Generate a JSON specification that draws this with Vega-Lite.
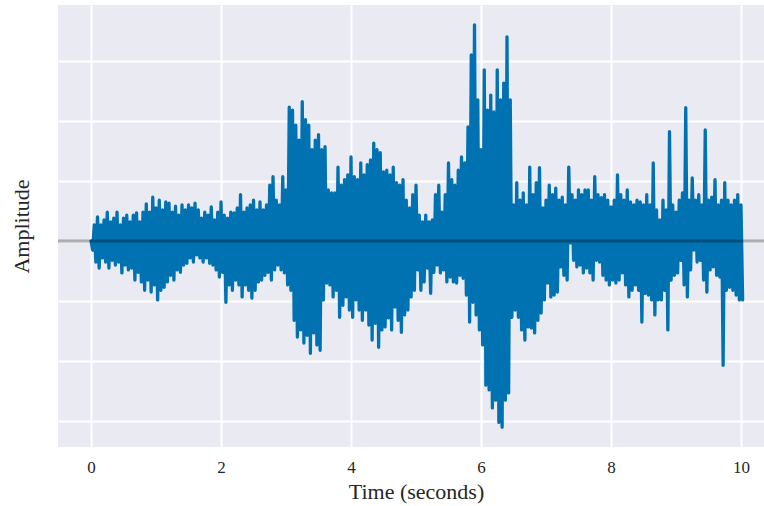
{
  "$schema": "https://vega.github.io/schema/vega-lite/v6.json",
  "width": 706,
  "height": 442,
  "autosize": "none",
  "padding": {"left": 58, "top": 5, "right": 0, "bottom": 59},
  "background": "white",
  "config": {
    "view": {"fill": "#EAEAF2", "stroke": null},
    "axis": {"grid": true, "gridColor": "white", "gridWidth": 2, "domain": false, "ticks": false, "labelFont": "Liberation Serif", "titleFont": "Liberation Serif", "labelColor": "#262626", "titleColor": "#262626", "titleFontWeight": "normal"}
  },
  "layer": [
    {
      "data": {"values": [
        {"t":0,"a":0},{"t":0.025,"a":-0.015},{"t":0.05,"a":0.027},{"t":0.075,"a":-0.035},{"t":0.1,"a":0.040},{"t":0.125,"a":-0.045},{"t":0.15,"a":0.027},{"t":0.175,"a":-0.028},{"t":0.2,"a":0.035},{"t":0.225,"a":-0.035},
        {"t":0.25,"a":0.048},{"t":0.275,"a":-0.045},{"t":0.3,"a":0.032},{"t":0.325,"a":-0.032},{"t":0.35,"a":0.038},{"t":0.375,"a":-0.040},{"t":0.4,"a":0.048},{"t":0.425,"a":-0.035},{"t":0.45,"a":0.027},{"t":0.475,"a":-0.053},
        {"t":0.5,"a":0.038},{"t":0.525,"a":-0.040},{"t":0.55,"a":0.043},{"t":0.575,"a":-0.048},{"t":0.6,"a":0.032},{"t":0.625,"a":-0.045},{"t":0.65,"a":0.043},{"t":0.675,"a":-0.065},{"t":0.7,"a":0.047},{"t":0.725,"a":-0.052},
        {"t":0.75,"a":0.032},{"t":0.775,"a":-0.068},{"t":0.8,"a":0.048},{"t":0.825,"a":-0.082},{"t":0.85,"a":0.062},{"t":0.875,"a":-0.065},{"t":0.9,"a":0.048},{"t":0.925,"a":-0.085},{"t":0.95,"a":0.073},{"t":0.975,"a":-0.073},
        {"t":1.0,"a":0.055},{"t":1.025,"a":-0.098},{"t":1.05,"a":0.068},{"t":1.075,"a":-0.082},{"t":1.1,"a":0.052},{"t":1.125,"a":-0.077},{"t":1.15,"a":0.065},{"t":1.175,"a":-0.068},{"t":1.2,"a":0.063},{"t":1.225,"a":-0.057},
        {"t":1.25,"a":0.048},{"t":1.275,"a":-0.065},{"t":1.3,"a":0.058},{"t":1.325,"a":-0.048},{"t":1.35,"a":0.043},{"t":1.375,"a":-0.052},{"t":1.4,"a":0.060},{"t":1.425,"a":-0.040},{"t":1.45,"a":0.052},{"t":1.475,"a":-0.037},
        {"t":1.5,"a":0.060},{"t":1.525,"a":-0.028},{"t":1.55,"a":0.055},{"t":1.575,"a":-0.035},{"t":1.6,"a":0.063},{"t":1.625,"a":-0.023},{"t":1.65,"a":0.052},{"t":1.675,"a":-0.028},{"t":1.7,"a":0.038},{"t":1.725,"a":-0.035},
        {"t":1.75,"a":0.048},{"t":1.775,"a":-0.028},{"t":1.8,"a":0.043},{"t":1.825,"a":-0.037},{"t":1.85,"a":0.057},{"t":1.875,"a":-0.040},{"t":1.9,"a":0.035},{"t":1.925,"a":-0.048},{"t":1.95,"a":0.048},{"t":1.975,"a":-0.060},
        {"t":2.0,"a":0.065},{"t":2.025,"a":-0.052},{"t":2.05,"a":0.043},{"t":2.075,"a":-0.102},{"t":2.1,"a":0.038},{"t":2.125,"a":-0.073},{"t":2.15,"a":0.048},{"t":2.175,"a":-0.082},{"t":2.2,"a":0.047},{"t":2.225,"a":-0.065},
        {"t":2.25,"a":0.055},{"t":2.275,"a":-0.073},{"t":2.3,"a":0.077},{"t":2.325,"a":-0.093},{"t":2.35,"a":0.048},{"t":2.375,"a":-0.073},{"t":2.4,"a":0.055},{"t":2.425,"a":-0.082},{"t":2.45,"a":0.060},{"t":2.475,"a":-0.095},
        {"t":2.5,"a":0.068},{"t":2.525,"a":-0.082},{"t":2.55,"a":0.052},{"t":2.575,"a":-0.068},{"t":2.6,"a":0.065},{"t":2.625,"a":-0.065},{"t":2.65,"a":0.052},{"t":2.675,"a":-0.057},{"t":2.7,"a":0.060},{"t":2.725,"a":-0.052},
        {"t":2.75,"a":0.093},{"t":2.775,"a":-0.065},{"t":2.8,"a":0.107},{"t":2.825,"a":-0.048},{"t":2.85,"a":0.068},{"t":2.875,"a":-0.040},{"t":2.9,"a":0.060},{"t":2.925,"a":-0.048},{"t":2.95,"a":0.107},{"t":2.975,"a":-0.053},
        {"t":3.0,"a":0.085},{"t":3.025,"a":-0.073},{"t":3.05,"a":0.223},{"t":3.075,"a":-0.082},{"t":3.1,"a":0.218},{"t":3.125,"a":-0.132},{"t":3.15,"a":0.193},{"t":3.175,"a":-0.160},{"t":3.2,"a":0.168},{"t":3.225,"a":-0.148},
        {"t":3.25,"a":0.232},{"t":3.275,"a":-0.170},{"t":3.3,"a":0.202},{"t":3.325,"a":-0.157},{"t":3.35,"a":0.193},{"t":3.375,"a":-0.187},{"t":3.4,"a":0.152},{"t":3.425,"a":-0.153},{"t":3.45,"a":0.168},{"t":3.475,"a":-0.173},
        {"t":3.5,"a":0.177},{"t":3.525,"a":-0.182},{"t":3.55,"a":0.152},{"t":3.575,"a":-0.098},{"t":3.6,"a":0.157},{"t":3.625,"a":-0.070},{"t":3.65,"a":0.085},{"t":3.675,"a":-0.073},{"t":3.7,"a":0.080},{"t":3.725,"a":-0.093},
        {"t":3.75,"a":0.080},{"t":3.775,"a":-0.082},{"t":3.8,"a":0.123},{"t":3.825,"a":-0.127},{"t":3.85,"a":0.093},{"t":3.875,"a":-0.107},{"t":3.9,"a":0.102},{"t":3.925,"a":-0.093},{"t":3.95,"a":0.110},{"t":3.975,"a":-0.115},
        {"t":4.0,"a":0.140},{"t":4.025,"a":-0.127},{"t":4.05,"a":0.107},{"t":4.075,"a":-0.098},{"t":4.1,"a":0.102},{"t":4.125,"a":-0.115},{"t":4.15,"a":0.130},{"t":4.175,"a":-0.132},{"t":4.2,"a":0.110},{"t":4.225,"a":-0.115},
        {"t":4.25,"a":0.127},{"t":4.275,"a":-0.140},{"t":4.3,"a":0.135},{"t":4.325,"a":-0.165},{"t":4.35,"a":0.163},{"t":4.375,"a":-0.137},{"t":4.4,"a":0.152},{"t":4.425,"a":-0.177},{"t":4.45,"a":0.147},{"t":4.475,"a":-0.148},
        {"t":4.5,"a":0.115},{"t":4.525,"a":-0.143},{"t":4.55,"a":0.118},{"t":4.575,"a":-0.128},{"t":4.6,"a":0.110},{"t":4.625,"a":-0.148},{"t":4.65,"a":0.123},{"t":4.675,"a":-0.110},{"t":4.7,"a":0.097},{"t":4.725,"a":-0.132},
        {"t":4.75,"a":0.093},{"t":4.775,"a":-0.152},{"t":4.8,"a":0.102},{"t":4.825,"a":-0.123},{"t":4.85,"a":0.068},{"t":4.875,"a":-0.115},{"t":4.9,"a":0.055},{"t":4.925,"a":-0.093},{"t":4.95,"a":0.077},{"t":4.975,"a":-0.082},
        {"t":5.0,"a":0.093},{"t":5.025,"a":-0.048},{"t":5.05,"a":0.043},{"t":5.075,"a":-0.082},{"t":5.1,"a":0.032},{"t":5.125,"a":-0.068},{"t":5.15,"a":0.043},{"t":5.175,"a":-0.045},{"t":5.2,"a":0.032},{"t":5.225,"a":-0.087},
        {"t":5.25,"a":0.035},{"t":5.275,"a":-0.052},{"t":5.3,"a":0.077},{"t":5.325,"a":-0.040},{"t":5.35,"a":0.093},{"t":5.375,"a":-0.053},{"t":5.4,"a":0.048},{"t":5.425,"a":-0.048},{"t":5.45,"a":0.077},{"t":5.475,"a":-0.068},
        {"t":5.5,"a":0.130},{"t":5.525,"a":-0.060},{"t":5.55,"a":0.102},{"t":5.575,"a":-0.068},{"t":5.6,"a":0.093},{"t":5.625,"a":-0.070},{"t":5.65,"a":0.118},{"t":5.675,"a":-0.057},{"t":5.7,"a":0.140},{"t":5.725,"a":-0.062},
        {"t":5.75,"a":0.130},{"t":5.775,"a":-0.090},{"t":5.8,"a":0.190},{"t":5.825,"a":-0.135},{"t":5.85,"a":0.310},{"t":5.875,"a":-0.102},{"t":5.9,"a":0.360},{"t":5.925,"a":-0.123},{"t":5.95,"a":0.235},{"t":5.975,"a":-0.148},
        {"t":6.0,"a":0.152},{"t":6.025,"a":-0.173},{"t":6.05,"a":0.285},{"t":6.075,"a":-0.240},{"t":6.1,"a":0.218},{"t":6.125,"a":-0.248},{"t":6.15,"a":0.243},{"t":6.175,"a":-0.278},{"t":6.2,"a":0.215},{"t":6.225,"a":-0.265},
        {"t":6.25,"a":0.285},{"t":6.275,"a":-0.302},{"t":6.3,"a":0.235},{"t":6.325,"a":-0.310},{"t":6.35,"a":0.263},{"t":6.375,"a":-0.265},{"t":6.4,"a":0.340},{"t":6.425,"a":-0.253},{"t":6.45,"a":0.235},{"t":6.475,"a":-0.127},
        {"t":6.5,"a":0.060},{"t":6.525,"a":-0.115},{"t":6.55,"a":0.097},{"t":6.575,"a":-0.127},{"t":6.6,"a":0.068},{"t":6.625,"a":-0.148},{"t":6.65,"a":0.080},{"t":6.675,"a":-0.165},{"t":6.7,"a":0.060},{"t":6.725,"a":-0.143},
        {"t":6.75,"a":0.123},{"t":6.775,"a":-0.145},{"t":6.8,"a":0.077},{"t":6.825,"a":-0.153},{"t":6.85,"a":0.097},{"t":6.875,"a":-0.132},{"t":6.9,"a":0.122},{"t":6.925,"a":-0.120},{"t":6.95,"a":0.055},{"t":6.975,"a":-0.098},
        {"t":7.0,"a":0.068},{"t":7.025,"a":-0.070},{"t":7.05,"a":0.093},{"t":7.075,"a":-0.093},{"t":7.1,"a":0.077},{"t":7.125,"a":-0.090},{"t":7.15,"a":0.088},{"t":7.175,"a":-0.085},{"t":7.2,"a":0.068},{"t":7.225,"a":-0.043},
        {"t":7.25,"a":0.073},{"t":7.275,"a":-0.057},{"t":7.3,"a":0.060},{"t":7.325,"a":-0.065},{"t":7.35,"a":0.123},{"t":7.375,"a":-0.003},{"t":7.4,"a":0.077},{"t":7.425,"a":-0.032},{"t":7.45,"a":0.068},{"t":7.475,"a":-0.043},
        {"t":7.5,"a":0.085},{"t":7.525,"a":-0.040},{"t":7.55,"a":0.077},{"t":7.575,"a":-0.053},{"t":7.6,"a":0.085},{"t":7.625,"a":-0.045},{"t":7.65,"a":0.085},{"t":7.675,"a":-0.053},{"t":7.7,"a":0.068},{"t":7.725,"a":-0.065},
        {"t":7.75,"a":0.107},{"t":7.775,"a":-0.032},{"t":7.8,"a":0.077},{"t":7.825,"a":-0.035},{"t":7.85,"a":0.072},{"t":7.875,"a":-0.057},{"t":7.9,"a":0.077},{"t":7.925,"a":-0.065},{"t":7.95,"a":0.068},{"t":7.975,"a":-0.073},
        {"t":8.0,"a":0.057},{"t":8.025,"a":-0.065},{"t":8.05,"a":0.068},{"t":8.075,"a":-0.070},{"t":8.1,"a":0.110},{"t":8.125,"a":-0.065},{"t":8.15,"a":0.077},{"t":8.175,"a":-0.053},{"t":8.2,"a":0.068},{"t":8.225,"a":-0.073},
        {"t":8.25,"a":0.085},{"t":8.275,"a":-0.093},{"t":8.3,"a":0.065},{"t":8.325,"a":-0.082},{"t":8.35,"a":0.060},{"t":8.375,"a":-0.073},{"t":8.4,"a":0.068},{"t":8.425,"a":-0.082},{"t":8.45,"a":0.065},{"t":8.475,"a":-0.135},
        {"t":8.5,"a":0.060},{"t":8.525,"a":-0.087},{"t":8.55,"a":0.077},{"t":8.575,"a":-0.090},{"t":8.6,"a":0.060},{"t":8.625,"a":-0.098},{"t":8.65,"a":0.130},{"t":8.675,"a":-0.123},{"t":8.7,"a":0.052},{"t":8.725,"a":-0.098},
        {"t":8.75,"a":0.035},{"t":8.775,"a":-0.098},{"t":8.8,"a":0.068},{"t":8.825,"a":-0.082},{"t":8.85,"a":0.052},{"t":8.875,"a":-0.148},{"t":8.9,"a":0.182},{"t":8.925,"a":-0.065},{"t":8.95,"a":0.060},{"t":8.975,"a":-0.057},
        {"t":9.0,"a":0.048},{"t":9.025,"a":-0.053},{"t":9.05,"a":0.068},{"t":9.075,"a":-0.032},{"t":9.1,"a":0.080},{"t":9.125,"a":-0.073},{"t":9.15,"a":0.222},{"t":9.175,"a":-0.093},{"t":9.2,"a":0.068},{"t":9.225,"a":-0.048},
        {"t":9.25,"a":0.105},{"t":9.275,"a":-0.015},{"t":9.3,"a":0.068},{"t":9.325,"a":-0.035},{"t":9.35,"a":0.077},{"t":9.375,"a":-0.032},{"t":9.4,"a":0.060},{"t":9.425,"a":-0.065},{"t":9.45,"a":0.185},{"t":9.475,"a":-0.085},
        {"t":9.5,"a":0.068},{"t":9.525,"a":-0.048},{"t":9.55,"a":0.073},{"t":9.575,"a":-0.043},{"t":9.6,"a":0.102},{"t":9.625,"a":-0.057},{"t":9.65,"a":0.060},{"t":9.675,"a":-0.060},{"t":9.7,"a":0.068},{"t":9.725,"a":-0.207},
        {"t":9.75,"a":0.097},{"t":9.775,"a":-0.082},{"t":9.8,"a":0.068},{"t":9.825,"a":-0.077},{"t":9.85,"a":0.060},{"t":9.875,"a":-0.082},{"t":9.9,"a":0.068},{"t":9.925,"a":-0.090},{"t":9.95,"a":0.077},{"t":9.975,"a":-0.098},
        {"t":10.0,"a":0.060},{"t":10.025,"a":-0.098}
      ]},
      "mark": {"type": "line", "color": "#0072B2", "strokeWidth": 3.3, "strokeJoin": "round", "strokeCap": "round", "clip": true},
      "encoding": {
        "x": {"field": "t", "type": "quantitative", "scale": {"domain": [-0.508, 10.354], "nice": false, "zero": false},
              "axis": {"title": "Time (seconds)", "values": [0, 2, 4, 6, 8, 10], "format": "d", "labelFontSize": 17, "titleFontSize": 22, "labelPadding": 12, "titlePadding": 6, "titleX": 358}},
        "y": {"field": "a", "type": "quantitative", "scale": {"domain": [-0.343, 0.393], "nice": false, "zero": false},
              "axis": {"title": "Amplitude", "values": [-0.3, -0.2, -0.1, 0, 0.1, 0.2, 0.3], "labels": false, "titleFontSize": 22, "titlePadding": 25}}
      }
    },
    {
      "data": {"values": [{"level": 0}]},
      "mark": {"type": "rule", "color": "black", "opacity": 0.3, "strokeWidth": 3},
      "encoding": {
        "y": {"field": "level", "type": "quantitative", "title": "Amplitude"}
      }
    }
  ]
}
